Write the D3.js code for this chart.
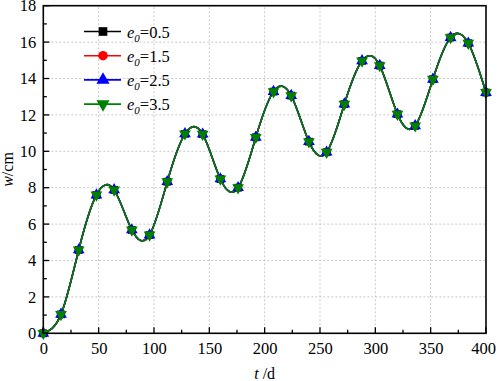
<!DOCTYPE html>
<html>
<head>
<meta charset="utf-8">
<script src="https://cdn.jsdelivr.net/npm/d3@7"></script>
<style>
  body { margin: 0; background: #fff; }
  svg text { font-family: "Liberation Serif", "Times New Roman", serif; }
</style>
</head>
<body>
<svg id="chart" width="498" height="381"></svg>
<script>
//-- data --//
var days = [0, 16, 32, 48, 64, 80, 96, 112, 128, 144, 160, 176, 192, 208, 224, 240, 256, 272, 288, 304, 320, 336, 352, 368, 384, 400];
var w05 = [0, 1.04, 4.58, 7.6, 7.88, 5.68, 5.4, 8.33, 10.96, 10.94, 8.48, 8.0, 10.77, 13.28, 13.06, 10.53, 9.95, 12.59, 14.97, 14.71, 12.04, 11.4, 13.96, 16.25, 15.94, 13.23];
var w15 = w05.slice();
var w25 = w05.slice();
var w35 = w05.slice();
var seriesNames = ["0.5", "1.5", "2.5", "3.5"];
var xTicks = [0, 50, 100, 150, 200, 250, 300, 350, 400];
var yTicks = [0, 2, 4, 6, 8, 10, 12, 14, 16, 18];
//-- data --//

var series = [
  {name: seriesNames[0], values: w05, color: "#000000", symbol: d3.symbolSquare, rot: 0},
  {name: seriesNames[1], values: w15, color: "#ff0000", symbol: d3.symbolCircle, rot: 0},
  {name: seriesNames[2], values: w25, color: "#0000ff", symbol: d3.symbolTriangle, rot: 0},
  {name: seriesNames[3], values: w35, color: "#008000", symbol: d3.symbolTriangle, rot: 180}
];

var svg = d3.select("#chart"),
    margin = {top: 5.7, left: 43.3, bottom: 47.7, right: 12},
    width = +svg.attr("width"),
    height = +svg.attr("height");

var x = d3.scaleLinear().domain([0, 400]).range([margin.left, width - margin.right]);
var y = d3.scaleLinear().domain([0, 18]).range([height - margin.bottom, margin.top]);

//-- grid --//
var grid = svg.append("g").attr("stroke", "#c8c8c8").attr("stroke-width", 1).attr("stroke-dasharray", "2,2");
grid.selectAll(".gx").data(xTicks.slice(1, -1)).enter().append("line")
  .attr("x1", d => x(d)).attr("x2", d => x(d))
  .attr("y1", y(0)).attr("y2", y(18));
grid.selectAll(".gy").data(yTicks.slice(1, -1)).enter().append("line")
  .attr("y1", d => y(d)).attr("y2", d => y(d))
  .attr("x1", x(0)).attr("x2", x(400));

//-- lines & markers --//
var line = d3.line().x((d, i) => x(days[i])).y(d => y(d)).curve(d3.curveNatural);

var plot = svg.append("g");
series.forEach(function(s) {
  plot.append("path")
    .attr("d", line(s.values))
    .attr("fill", "none")
    .attr("stroke", s.color)
    .attr("stroke-width", 1.6);
});
series.forEach(function(s) {
  var sym = d3.symbol().type(s.symbol).size(s.symbol === d3.symbolCircle ? 55 : 60);
  plot.selectAll(null).data(s.values).enter().append("path")
    .attr("d", sym)
    .attr("fill", s.color)
    .attr("transform", (d, i) => `translate(${x(days[i])},${y(d)}) rotate(${s.rot})`);
});

//-- axes --//
var xAxis = svg.append("g").attr("transform", `translate(0,${y(0)})`)
  .call(d3.axisBottom(x).tickValues(xTicks).tickSize(0).tickPadding(10).tickFormat(d3.format("d")));
var yAxis = svg.append("g").attr("transform", `translate(${x(0)},0)`)
  .call(d3.axisLeft(y).tickValues(yTicks).tickSize(0).tickPadding(7));
[xAxis, yAxis].forEach(function(a) {
  a.attr("font-family", "Liberation Serif, Times New Roman, serif").attr("font-size", 16.5);
  a.select(".domain").remove();
  a.selectAll("text").attr("fill", "#000");
});
xAxis.selectAll("text").attr("dy", "0.71em").attr("y", 9);
xAxis.selectAll(".tick").filter(d => d === 400).select("text").attr("dx", -3);

// inward ticks
var ticks = svg.append("g").attr("stroke", "#000").attr("stroke-width", 1.3);
d3.range(0, 401, 25).forEach(function(v) {
  var len = v % 50 === 0 ? 6 : 3.5;
  ticks.append("line").attr("x1", x(v)).attr("x2", x(v)).attr("y1", y(0)).attr("y2", y(0) - len);
});
d3.range(0, 19, 1).forEach(function(v) {
  var len = v % 2 === 0 ? 6 : 3.5;
  ticks.append("line").attr("y1", y(v)).attr("y2", y(v)).attr("x1", x(0)).attr("x2", x(0) + len);
});

// frame
svg.append("rect")
  .attr("x", x(0)).attr("y", y(18))
  .attr("width", x(400) - x(0)).attr("height", y(0) - y(18))
  .attr("fill", "none").attr("stroke", "#000").attr("stroke-width", 1.6);

//-- axis titles --//
var xt = svg.append("text").attr("x", (x(0) + x(400)) / 2).attr("y", 379)
  .attr("text-anchor", "middle").attr("font-size", 16);
xt.append("tspan").attr("font-style", "italic").text("t");
xt.append("tspan").text(" /d");

var yt = svg.append("text").attr("transform", `translate(13,${(y(0) + y(18)) / 2}) rotate(-90)`)
  .attr("text-anchor", "middle").attr("font-size", 16);
yt.append("tspan").attr("font-style", "italic").text("w");
yt.append("tspan").text("/cm");

//-- legend --//
var legend = svg.append("g").attr("transform", "translate(84,31.5)");
var lg = legend.selectAll("g").data(series).enter().append("g")
  .attr("transform", (d, i) => `translate(0,${i * 24.2})`);
lg.append("line").attr("x1", 0).attr("x2", 37).attr("y1", 0).attr("y2", 0)
  .attr("stroke", d => d.color).attr("stroke-width", 1.6);
lg.append("path")
  .attr("d", d => d3.symbol().type(d.symbol).size(d.symbol === d3.symbolCircle ? 70 : 75)())
  .attr("fill", d => d.color)
  .attr("transform", d => `translate(19,0) rotate(${d.rot})`);
var lt = lg.append("text").attr("x", 43).attr("y", 6).attr("font-size", 16.5);
lt.append("tspan").attr("font-style", "italic").text("e");
lt.append("tspan").attr("font-style", "italic").attr("font-size", 11).attr("dy", 4).text("0");
lt.append("tspan").attr("dy", -4).text(d => "=" + d.name);
</script>
</body>
</html>
